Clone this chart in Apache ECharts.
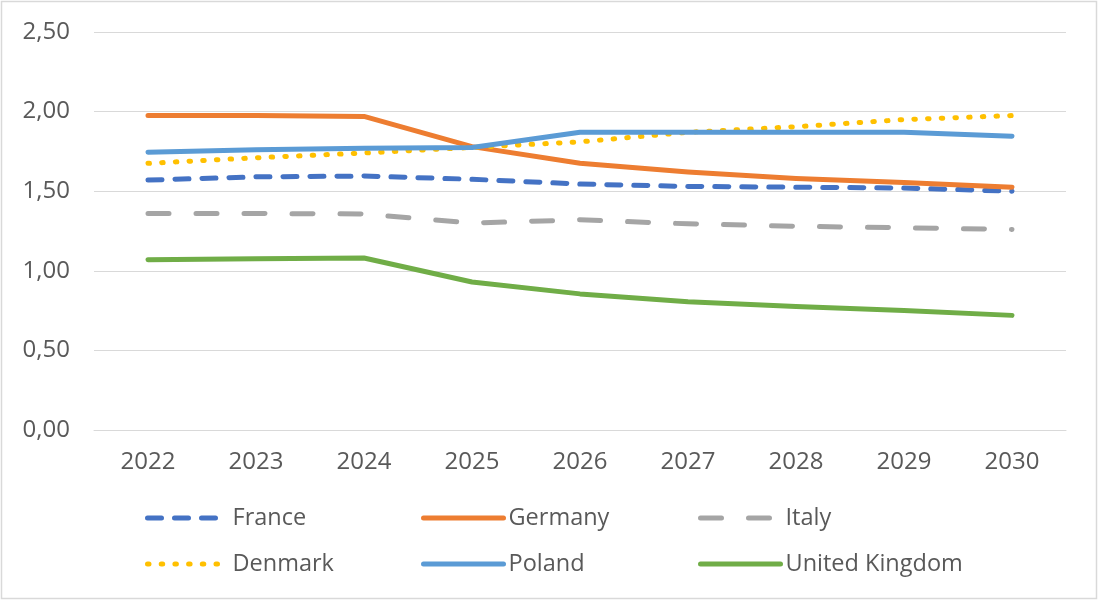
<!DOCTYPE html>
<html>
<head>
<meta charset="utf-8">
<script src="https://cdn.jsdelivr.net/npm/echarts@6/dist/echarts.min.js"></script>
<style>
html,body{margin:0;padding:0;background:#fff;}
#c{width:1099px;height:601px;}
</style>
</head>
<body>
<div id="c"></div>
<script>
const years = ['2022','2023','2024','2025','2026','2027','2028','2029','2030'];
const france  = [1.57, 1.59, 1.595, 1.575, 1.545, 1.53, 1.525, 1.52, 1.50];
const germany = [1.975, 1.975, 1.97, 1.78, 1.675, 1.62, 1.58, 1.555, 1.525];
const italy   = [1.36, 1.36, 1.357, 1.30, 1.32, 1.295, 1.28, 1.27, 1.26];
const denmark = [1.675, 1.71, 1.74, 1.775, 1.81, 1.87, 1.905, 1.95, 1.975];
const poland  = [1.745, 1.76, 1.77, 1.775, 1.87, 1.87, 1.87, 1.87, 1.845];
const uk      = [1.07, 1.075, 1.08, 0.93, 0.855, 0.805, 0.775, 0.75, 0.72];

const FONT = '"Open Sans", "Noto Sans", sans-serif';
const TXT = '#595959';

const seriesDefs = [
  {name:'France', data:france, color:'#4472C4', type:[14,13]},
  {name:'Germany', data:germany, color:'#ED7D31', type:'solid'},
  {name:'Italy', data:italy, color:'#A5A5A5', type:[21,27]},
  {name:'Denmark', data:denmark, color:'#FFC000', type:[1.5,12.2]},
  {name:'Poland', data:poland, color:'#5B9BD5', type:'solid'},
  {name:'United Kingdom', data:uk, color:'#70AD47', type:'solid'}
];

const legendPos = [
  {left:140, top:499}, {left:416, top:499}, {left:693, top:499},
  {left:140, top:545}, {left:416, top:545}, {left:693, top:545}
];

const chart = echarts.init(document.getElementById('c'), null, {renderer:'canvas'});
chart.setOption({
  backgroundColor:'#fff',
  animation:false,
  graphic:[{type:'rect', shape:{x:1.5, y:1.5, width:1095, height:597}, style:{fill:'none', stroke:'#d9d9d9', lineWidth:1.5}, silent:true}],
  grid:{left:94, top:32, width:972, height:398, containLabel:false},
  legend: seriesDefs.map((s,i)=>({
    data:[s.name], left:legendPos[i].left, top:legendPos[i].top,
    itemWidth:80, itemHeight:28, itemGap:0, itemTextGap:5,
    itemStyle:{opacity:0},
    lineStyle:{color:s.color, width:5, type:s.type, cap:'round', opacity:1},
    textStyle:{fontFamily:FONT, fontSize:23.5, color:TXT, lineHeight:28},
    selectedMode:false
  })),
  xAxis:{
    type:'category', data:years, boundaryGap:true,
    axisLine:{show:true, lineStyle:{color:'#d9d9d9', width:1}},
    axisTick:{show:false},
    axisLabel:{fontFamily:FONT, fontSize:24, color:TXT, margin:20}
  },
  yAxis:{
    type:'value', min:0, max:2.5, interval:0.5,
    axisLine:{show:false}, axisTick:{show:false},
    splitLine:{lineStyle:{color:'#d9d9d9', width:1}},
    axisLabel:{fontFamily:FONT, fontSize:24, color:TXT, margin:24,
      formatter:v=>v.toFixed(2).replace('.', ',')}
  },
  series: seriesDefs.map(s=>({
    name:s.name, type:'line', data:s.data, symbol:'none', smooth:false,
    itemStyle:{color:s.color},
    lineStyle:{color:s.color, width:5, type:s.type, cap:'round', join:'round'}
  }))
});
</script>
</body>
</html>
